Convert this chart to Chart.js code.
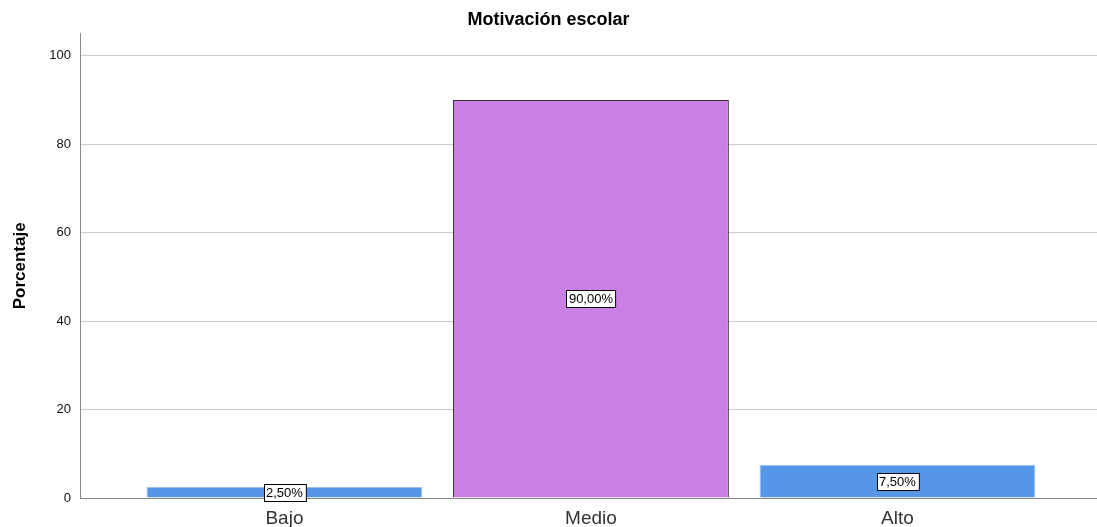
<!DOCTYPE html>
<html>
<head>
<meta charset="utf-8">
<script src="https://cdn.jsdelivr.net/npm/chart.js@4"></script>
<style>
  html, body { margin: 0; padding: 0; background: #fff; }
  #wrap { width: 1097px; height: 527px; }
</style>
</head>
<body>
<div id="wrap"><canvas id="motivChart" width="1097" height="527"></canvas></div>
<script>
const categories = ['Bajo', 'Medio', 'Alto'];
const percentages = [2.5, 90.0, 7.5];
const valueLabels = ['2,50%', '90,00%', '7,50%'];
const yTicks = [0, 20, 40, 60, 80, 100];
const barColors = ['#5596e6', '#c97fe6', '#5596e6'];
const barBorders = ['#9cc0f0', '#333333', '#9cc0f0'];

const FONT = '"Liberation Sans", Arial, sans-serif';

const boxLabels = {
  id: 'boxLabels',
  afterDatasetsDraw(chart) {
    const ctx = chart.ctx;
    const meta = chart.getDatasetMeta(0);
    ctx.save();
    ctx.font = '13px ' + FONT;
    ctx.textAlign = 'center';
    ctx.textBaseline = 'middle';
    meta.data.forEach(function (bar, i) {
      const p = bar.getCenterPoint();
      const txt = valueLabels[i];
      const w = ctx.measureText(txt).width + 5;
      const h = 17;
      const x = Math.round(p.x - w / 2) + 0.5;
      const y = Math.round(p.y - h / 2) + 0.5;
      ctx.fillStyle = '#fff';
      ctx.fillRect(x, y, w, h);
      ctx.strokeStyle = '#000';
      ctx.lineWidth = 1;
      ctx.strokeRect(x, y, w, h);
      ctx.fillStyle = '#000';
      ctx.fillText(txt, p.x, p.y + 1);
    });
    ctx.restore();
  }
};

const ctx = document.getElementById('motivChart').getContext('2d');
new Chart(ctx, {
  type: 'bar',
  data: {
    datasets: [{
      data: percentages.map(function (v, i) { return { x: i, y: v }; }),
      backgroundColor: barColors,
      borderColor: barBorders,
      borderWidth: 1,
      categoryPercentage: 1,
      barPercentage: 0.9
    }]
  },
  options: {
    responsive: false,
    animation: false,
    layout: { padding: 0 },
    plugins: {
      legend: { display: false },
      tooltip: { enabled: false },
      title: {
        display: true,
        text: 'Motivación escolar',
        color: '#000',
        font: { family: FONT, size: 18, weight: 'bold' },
        padding: { top: 9, bottom: 3 }
      }
    },
    scales: {
      x: {
        type: 'linear',
        offset: false,
        min: -0.667,
        max: 2.651,
        afterBuildTicks: function (scale) {
          scale.ticks = categories.map(function (c, i) { return { value: i }; });
        },
        afterFit: function (scale) { scale.height = 29; },
        grid: { display: false },
        border: { display: true, color: '#888', width: 1 },
        ticks: {
          color: '#333',
          padding: 1,
          font: { family: FONT, size: 19 },
          callback: function (v) { return categories[v]; }
        }
      },
      y: {
        min: 0,
        max: 105,
        afterBuildTicks: function (scale) {
          scale.ticks = yTicks.map(function (v) { return { value: v }; });
        },
        afterFit: function (scale) { scale.width = 80; },
        grid: {
          color: function (c) { return c.tick && c.tick.value === 0 ? 'rgba(0,0,0,0)' : '#cccccc'; },
          drawTicks: false
        },
        border: { display: true, color: '#888', width: 1 },
        ticks: {
          color: '#111',
          padding: 9,
          font: { family: FONT, size: 13 }
        },
        title: {
          display: true,
          text: 'Porcentaje',
          color: '#000',
          padding: { top: 10, bottom: 0 },
          font: { family: FONT, size: 17, weight: 'bold' }
        }
      }
    }
  },
  plugins: [boxLabels]
});
</script>
</body>
</html>
